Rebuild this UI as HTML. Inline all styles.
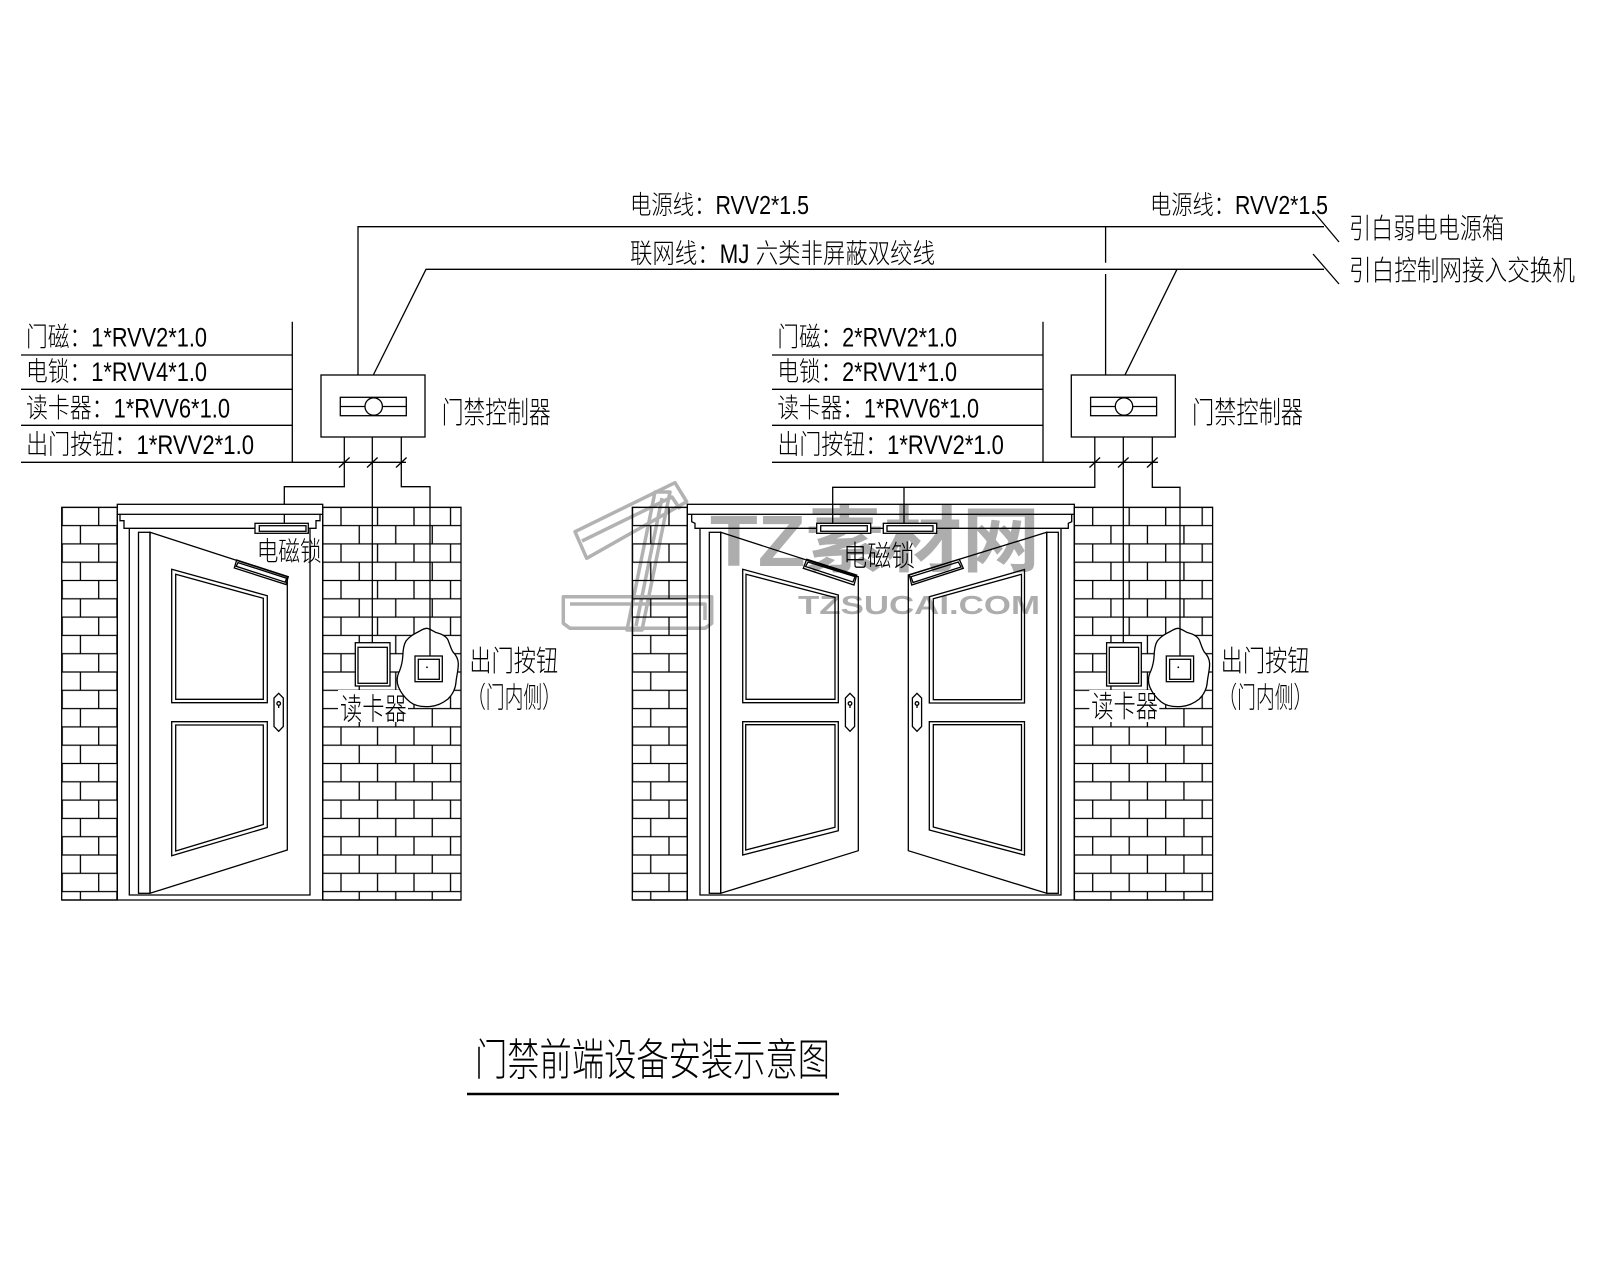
<!DOCTYPE html>
<html><head><meta charset="utf-8">
<style>
html,body{margin:0;padding:0;background:#fff;}
svg{display:block;}
text{font-family:"Liberation Sans","Noto Sans CJK SC",sans-serif;fill:#000;font-weight:300;}
.l{stroke:#000;stroke-width:1.3;fill:none;}
.w{stroke:#000;stroke-width:1.3;fill:#fff;}
</style></head><body>
<svg width="1600" height="1280" viewBox="0 0 1600 1280" xmlns="http://www.w3.org/2000/svg">
<defs>
 <pattern id="b1" patternUnits="userSpaceOnUse" x="89.575" y="507.3" width="36.5" height="36.6">
  <path d="M0 0H36.5M0 18.3H36.5M0 36.6H36.5M9.125 0V18.3M27.375 18.3V36.6" stroke="#000" stroke-width="1.3" fill="none"/>
 </pattern>
 <pattern id="b2" patternUnits="userSpaceOnUse" x="331.875" y="507.3" width="36.5" height="36.6">
  <path d="M0 0H36.5M0 18.3H36.5M0 36.6H36.5M9.125 0V18.3M27.375 18.3V36.6" stroke="#000" stroke-width="1.3" fill="none"/>
 </pattern>
 <pattern id="b3" patternUnits="userSpaceOnUse" x="659.875" y="507.3" width="36.5" height="36.6">
  <path d="M0 0H36.5M0 18.3H36.5M0 36.6H36.5M9.125 0V18.3M27.375 18.3V36.6" stroke="#000" stroke-width="1.3" fill="none"/>
 </pattern>
 <pattern id="b4" patternUnits="userSpaceOnUse" x="1083.575" y="507.3" width="36.5" height="36.6">
  <path d="M0 0H36.5M0 18.3H36.5M0 36.6H36.5M9.125 0V18.3M27.375 18.3V36.6" stroke="#000" stroke-width="1.3" fill="none"/>
 </pattern>
</defs>
<rect width="1600" height="1280" fill="#fff"/>

<!-- watermark -->
<g stroke="#b2b2b2" stroke-width="3.5" fill="none" stroke-linejoin="round">
 <polygon points="575,531.7 675,482.7 686.7,501.7 586.7,558.3"/>
 <polyline points="582,541 672,497 680,509"/>
 <polygon points="655,492 670,492 642,630 627,630"/>
 <path d="M662 498L636 626"/>
 <polygon points="563.3,596.7 711.7,596.7 711.7,623.3 705,628.3 570,628.3 563.3,623.3"/>
 <polyline points="570,604 705,604 705,620"/>
</g>
<text x="710" y="566" font-size="72" textLength="330" lengthAdjust="spacingAndGlyphs" style="fill:#adadad;font-weight:bold">TZ素材网</text>
<text x="798" y="614" font-size="26" textLength="242" lengthAdjust="spacingAndGlyphs" style="fill:#adadad;font-weight:bold">TZSUCAI.COM</text>

<!-- top wires -->
<polyline class="l" points="358,375 358,226.7 1324,226.7"/>
<polyline class="l" points="373.3,375 426,269.3 1324,269.3"/>
<path class="l" d="M1105.6 226.7V262.7M1105.6 274V375.3M1177 269.3L1124.8 375.3M1313 211L1339 242M1313 254L1339 284"/>

<text x="630" y="214" font-size="26" textLength="179" lengthAdjust="spacingAndGlyphs">电源线：RVV2*1.5</text>
<text x="1150" y="214" font-size="26" textLength="178" lengthAdjust="spacingAndGlyphs">电源线：RVV2*1.5</text>
<text x="630" y="263" font-size="27" textLength="305" lengthAdjust="spacingAndGlyphs">联网线：MJ 六类非屏蔽双绞线</text>
<text x="1349" y="238" font-size="28" textLength="155" lengthAdjust="spacingAndGlyphs">引白弱电电源箱</text>
<text x="1349" y="280" font-size="28" textLength="226" lengthAdjust="spacingAndGlyphs">引白控制网接入交换机</text>

<!-- left table -->
<path class="l" d="M292.3 321.7V462.3M21 355H292.3M21 389.3H292.3M21 425.3H292.3M21 462.3H406"/>
<text x="26" y="346.5" font-size="27" textLength="181" lengthAdjust="spacingAndGlyphs">门磁：1*RVV2*1.0</text>
<text x="26" y="381" font-size="27" textLength="181" lengthAdjust="spacingAndGlyphs">电锁：1*RVV4*1.0</text>
<text x="26" y="417.5" font-size="27" textLength="204" lengthAdjust="spacingAndGlyphs">读卡器：1*RVV6*1.0</text>
<text x="26" y="454" font-size="27" textLength="228" lengthAdjust="spacingAndGlyphs">出门按钮：1*RVV2*1.0</text>

<!-- right table -->
<path class="l" d="M1043 321.7V462.3M772 355H1043M772 389.3H1043M772 425.3H1043M772 462.3H1158"/>
<text x="777.4" y="346.5" font-size="27" textLength="179.6" lengthAdjust="spacingAndGlyphs">门磁：2*RVV2*1.0</text>
<text x="777.4" y="381" font-size="27" textLength="179.6" lengthAdjust="spacingAndGlyphs">电锁：2*RVV1*1.0</text>
<text x="777.4" y="417.5" font-size="27" textLength="201.6" lengthAdjust="spacingAndGlyphs">读卡器：1*RVV6*1.0</text>
<text x="777.4" y="454" font-size="27" textLength="226.5" lengthAdjust="spacingAndGlyphs">出门按钮：1*RVV2*1.0</text>

<!-- controllers -->
<g>
 <rect class="w" x="321" y="375" width="104" height="62"/>
 <rect class="l" x="340.3" y="397.3" width="66" height="18.4"/>
 <path class="l" d="M340.3 406.5H406.3"/>
 <circle class="w" cx="373.7" cy="406.5" r="8.7"/>
 <text x="441.7" y="423" font-size="30" textLength="109" lengthAdjust="spacingAndGlyphs">门禁控制器</text>
</g>
<g transform="translate(750.3,0)">
 <rect class="w" x="321" y="375" width="104" height="62"/>
 <rect class="l" x="340.3" y="397.3" width="66" height="18.4"/>
 <path class="l" d="M340.3 406.5H406.3"/>
 <circle class="w" cx="373.7" cy="406.5" r="8.7"/>
 <text x="441.7" y="423" font-size="30" textLength="111" lengthAdjust="spacingAndGlyphs">门禁控制器</text>
</g>

<!-- left controller wires -->
<polyline class="l" points="344.3,437 344.3,486.7 284.3,486.7 284.3,523.3"/>
<path class="l" d="M372.3 437V642.7"/>
<polyline class="l" points="401.3,437 401.3,486.7 430,486.7 430,656"/>
<path class="l" d="M339 467.5L349.6 457.5M367 467.5L377.6 457.5M396 467.5L406.6 457.5"/>

<!-- right controller wires -->
<polyline class="l" points="1094.8,437 1094.8,487.3 832.7,487.3 832.7,523.3"/>
<path class="l" d="M904 487.3V523.3M1123.3 437V642.5"/>
<polyline class="l" points="1152.3,437 1152.3,487.3 1180,487.3 1180,655.7"/>
<path class="l" d="M1089.5 467.5L1100.1 457.5M1118 467.5L1128.6 457.5M1147 467.5L1157.6 457.5"/>

<!-- walls -->
<rect x="61.7" y="507.3" width="55.6" height="392.7" fill="url(#b1)" stroke="#000" stroke-width="1.3"/>
<rect x="322.7" y="507.3" width="138.3" height="392.7" fill="url(#b2)" stroke="#000" stroke-width="1.3"/>
<rect x="632.3" y="507.3" width="55" height="392.7" fill="url(#b3)" stroke="#000" stroke-width="1.3"/>
<rect x="1074.3" y="507.3" width="138.3" height="392.7" fill="url(#b4)" stroke="#000" stroke-width="1.3"/>
<path class="l" d="M61.7 900H461M632.3 900H1212.6"/>

<!-- left door frame -->
<rect class="w" x="117.3" y="504.3" width="205.4" height="10"/>
<path class="l" d="M117.3 514.3V900M322.7 514.3V900M120 514.3V520.7H124V528.3H316V520.7H320V514.3M129.3 528.3V895H310V528.3"/>
<rect class="l" x="138.5" y="532.3" width="11.5" height="361"/>
<polygon class="l" points="150,532.3 287.3,576.7 287.3,850 150,893.3"/>
<polygon class="l" points="236.7,560 288.3,576.7 286,584.5 234.3,568"/>
<polygon class="l" points="238,562.6 286.6,578.2 285.2,582.2 236.2,566.3"/>
<polygon class="l" points="171.7,569.3 267.3,595.7 267.3,702.7 171.7,702.7"/>
<polygon class="l" points="175.7,574.3 263.3,598.3 263.3,699.3 175.7,699.3"/>
<polygon class="l" points="171.7,721.7 267.3,721.7 267.3,827.5 171.7,855.7"/>
<polygon class="l" points="175.7,725 263.3,725 263.3,824.5 175.7,851"/>
<polygon class="l" points="278.7,693.3 283.3,698 283.3,726.5 278.7,731.3 274,726.5 274,698"/>
<circle class="l" cx="278.7" cy="703.5" r="1.8"/>
<path class="l" d="M278.7 705.3V708"/>
<rect class="w" x="255" y="523.3" width="53.3" height="10"/>
<rect class="l" x="259.3" y="525.7" width="46.7" height="5.6"/>
<text x="256.7" y="561" font-size="27" textLength="65" lengthAdjust="spacingAndGlyphs">电磁锁</text>

<!-- right door frame -->
<rect class="l" x="687.3" y="504.3" width="387" height="10"/>
<path class="l" d="M687.3 514.3V900M1074.3 514.3V900M691.7 514.3V521.7L695 523.3V528.3H1068.3V523.3L1071.7 521.7V514.3M700 528.3V895H1061V528.3"/>
<rect class="l" x="709.3" y="532.3" width="11.4" height="361"/>
<rect class="l" x="1046.7" y="532.3" width="11.6" height="361"/>
<polygon class="l" points="720.7,532.3 858.3,576.7 858.3,850.7 720.7,893.3"/>
<polygon class="l" points="1046.7,532.3 908.3,575 908.3,850.7 1046.7,893.3"/>
<!-- left leaf panels -->
<polygon class="l" points="742.7,569.3 838.3,595 838.3,702.7 742.7,702.7"/>
<polygon class="l" points="746,574.3 835,597.5 835,699.3 746,699.3"/>
<polygon class="l" points="742.7,721.7 838.3,721.7 838.3,830.7 742.7,855"/>
<polygon class="l" points="745.7,724.7 835,724.7 835,827.3 745.7,850"/>
<!-- right leaf panels -->
<polygon class="l" points="929.3,596.7 1024.5,569.5 1024.5,703 929.3,703"/>
<polygon class="l" points="933.3,598.8 1021.5,574.3 1021.5,699.7 933.3,699.7"/>
<polygon class="l" points="929.3,721.7 1024.5,721.7 1024.5,855 929.3,830"/>
<polygon class="l" points="933.3,724.7 1021.5,724.7 1021.5,850.5 933.3,827"/>
<!-- handles -->
<polygon class="l" points="850,693.3 854.6,698 854.6,726.5 850,731.3 845.4,726.5 845.4,698"/>
<circle class="l" cx="850" cy="703.5" r="1.8"/><path class="l" d="M850 705.3V708"/>
<polygon class="l" points="917,693.3 921.6,698 921.6,726.5 917,731.3 912.4,726.5 912.4,698"/>
<circle class="l" cx="917" cy="703.5" r="1.8"/><path class="l" d="M917 705.3V708"/>
<!-- leaf locks -->
<polygon class="l" points="806.7,559.3 856.7,575 854,585 803.3,568.3"/>
<polygon class="l" points="808,562 855,576.6 853,582 805.5,566.5"/>
<polygon class="l" points="909.3,575 959.3,559.3 963.3,568.3 911.7,585"/>
<polygon class="l" points="911,576.8 958.3,562 961,567 913,582.5"/>
<!-- header locks -->
<rect class="w" x="816.7" y="523.3" width="54" height="10"/>
<rect class="l" x="820.7" y="525.7" width="46.6" height="5.6"/>
<rect class="w" x="883.3" y="523.3" width="53.4" height="10"/>
<rect class="l" x="887" y="525.7" width="46" height="5.6"/>
<text x="843.3" y="566" font-size="29" textLength="71.7" lengthAdjust="spacingAndGlyphs">电磁锁</text>

<!-- left reader & button -->
<g>
 <rect x="338" y="690" width="70" height="32" fill="#fff"/>
 <rect class="w" x="355.3" y="642.7" width="34.7" height="43.3"/>
 <rect class="l" x="358" y="647.3" width="29.3" height="36"/>
 <path class="w" d="M426.7 628.3C430 629 433 631 436 632.5C442 634 446 636 448 640C450 645 451 649 453 652C456 655 458 658 458.3 663.3C458.5 670 456.5 676 456 682C455.5 689 453 694 448 699C443 703 437 706 430 706.5C423 707 415 706 410 702C405 698 401 693 398.5 687C396.5 682 397 676 399.5 671C401.5 666 402.5 661 402.8 656C403 650 403.5 645 406 641C409 637 413 634.5 417 632.5C420 631 423 628.5 426.7 628.3Z"/>
 <path class="l" d="M430 628.3V656"/>
 <rect class="l" x="415" y="656" width="27.3" height="25.7"/>
 <rect class="l" x="418.3" y="659.3" width="21" height="20"/>
 <circle cx="427" cy="667.3" r="0.9" fill="#000"/>
 <text x="340" y="719.5" font-size="30" textLength="66.7" lengthAdjust="spacingAndGlyphs">读卡器</text>
 <text x="469.3" y="671" font-size="29" textLength="89" lengthAdjust="spacingAndGlyphs">出门按钮</text>
 <text x="467" y="707.5" font-size="29" textLength="94" lengthAdjust="spacingAndGlyphs">（门内侧）</text>
</g>
<g transform="translate(751.3,0)">
 <rect x="338" y="690" width="70" height="32" fill="#fff"/>
 <rect class="w" x="355.3" y="642.7" width="34.7" height="43.3"/>
 <rect class="l" x="358" y="647.3" width="29.3" height="36"/>
 <path class="w" d="M426.7 628.3C430 629 433 631 436 632.5C442 634 446 636 448 640C450 645 451 649 453 652C456 655 458 658 458.3 663.3C458.5 670 456.5 676 456 682C455.5 689 453 694 448 699C443 703 437 706 430 706.5C423 707 415 706 410 702C405 698 401 693 398.5 687C396.5 682 397 676 399.5 671C401.5 666 402.5 661 402.8 656C403 650 403.5 645 406 641C409 637 413 634.5 417 632.5C420 631 423 628.5 426.7 628.3Z"/>
 <path class="l" d="M428.7 628.3V656"/>
 <rect class="l" x="415" y="656" width="27.3" height="25.7"/>
 <rect class="l" x="418.3" y="659.3" width="21" height="20"/>
 <circle cx="427" cy="667.3" r="0.9" fill="#000"/>
 <text x="340" y="717" font-size="30" textLength="66.7" lengthAdjust="spacingAndGlyphs">读卡器</text>
 <text x="469.3" y="671" font-size="29" textLength="89" lengthAdjust="spacingAndGlyphs">出门按钮</text>
 <text x="467" y="707.5" font-size="29" textLength="94" lengthAdjust="spacingAndGlyphs">（门内侧）</text>
</g>

<!-- title -->
<text x="475" y="1075" font-size="44" textLength="355" lengthAdjust="spacingAndGlyphs">门禁前端设备安装示意图</text>
<path d="M467 1094H839" stroke="#000" stroke-width="2.5"/>
</svg>
</body></html>
